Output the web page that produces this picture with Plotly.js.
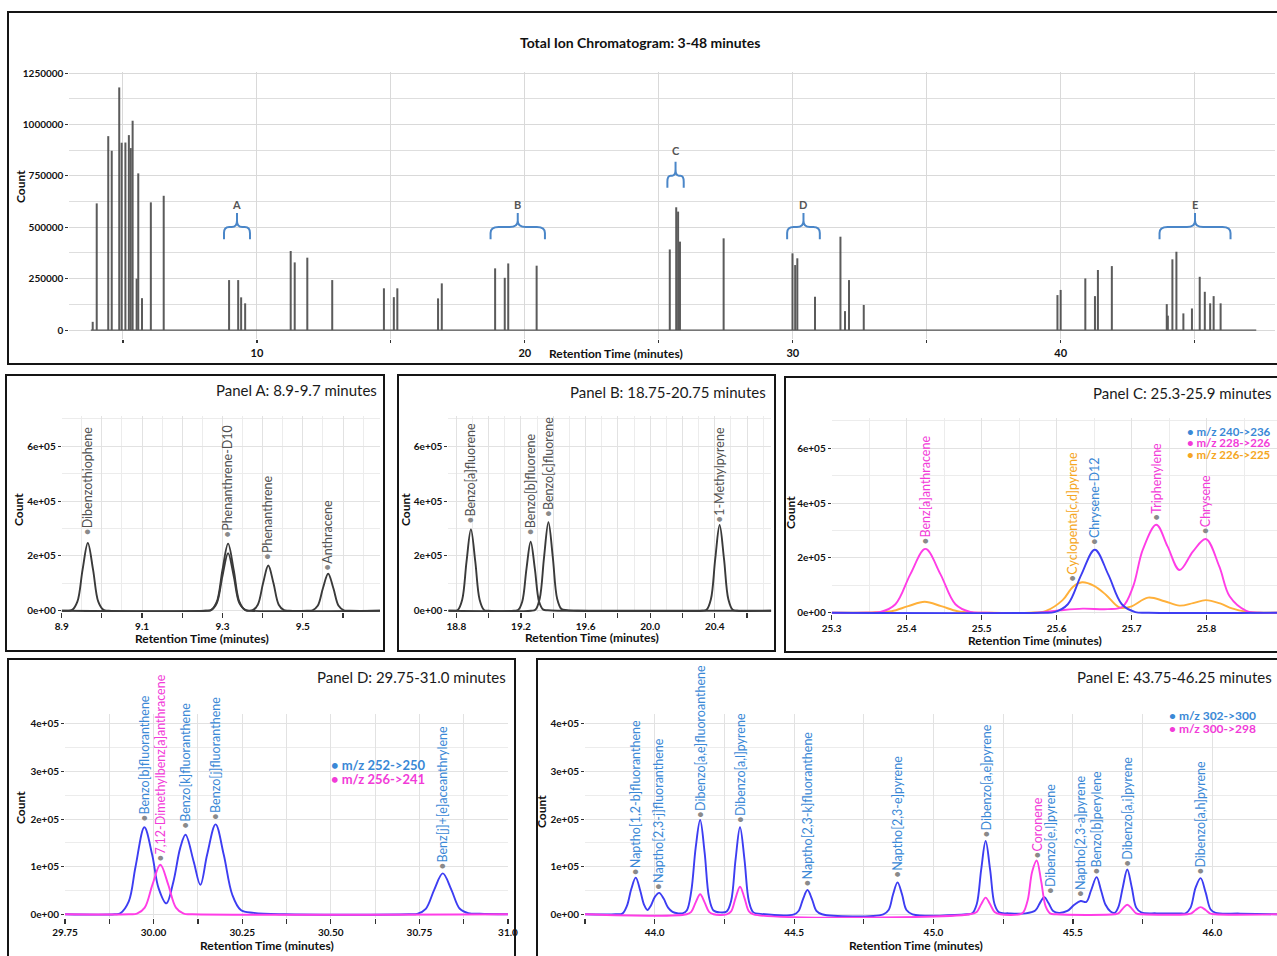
<!DOCTYPE html>
<html>
<head>
<meta charset="utf-8">
<script src="https://cdn.plot.ly/plotly-3.0.1.min.js"></script>
<style>html,body{margin:0;padding:0;background:#fff;}#chart{width:1277px;height:956px;}</style>
</head>
<body>
<div id="chart"></div>
<script>
// ================= DATA =================
// Total ion chromatogram: peak apex retention time (min) and count
const ticRt = [3.87, 4.02, 4.45, 4.58, 4.86, 4.95, 5.09, 5.22, 5.29, 5.36, 5.51, 5.57, 5.71, 6.04, 6.52,
  8.96, 9.30, 9.41, 9.56, 11.26, 11.41, 11.88, 12.81, 14.74, 15.11, 15.24, 16.76, 16.90,
  18.89, 19.25, 19.38, 20.44, 25.41, 25.65, 25.72, 25.79, 27.42, 29.99, 30.09, 30.17, 30.83,
  31.78, 31.95, 32.10, 32.65, 39.88, 40.0, 40.92, 41.28, 41.39, 41.91,
  43.96, 44.0, 44.17, 44.32, 44.58, 44.90, 45.19, 45.38, 45.58, 45.71, 45.97];
const ticCount = [40000, 616000, 943000, 872000, 1180000, 911000, 912000, 948000, 885000, 1018000, 250000, 762000, 155000, 621000, 653000,
  243000, 243000, 159000, 130000, 384000, 329000, 352000, 243000, 203000, 160000, 203000, 154000, 227000,
  300000, 254000, 324000, 313000, 392000, 597000, 576000, 430000, 446000, 373000, 316000, 349000, 162000,
  454000, 92000, 243000, 122000, 170000, 195000, 251000, 165000, 292000, 311000,
  126000, 70000, 344000, 381000, 81000, 105000, 259000, 186000, 130000, 165000, 130000];
const ticBaseRt = [3.8, 47.3];
const ticBaseCount = [0, 0];
const ticXTickVals = [5, 10, 15, 20, 25, 30, 35, 40, 45];
const ticXTickText = ['', '10', '', '20', '', '30', '', '40', ''];
const ticYTickVals = [0, 250000, 500000, 750000, 1000000, 1250000];
const ticYTickText = ['0', '250000', '500000', '750000', '1000000', '1250000'];
// Panel windows marked on the TIC
const braceLetters = ['A', 'B', 'C', 'D', 'E'];
const braceFrom = [8.77, 18.72, 25.32, 29.79, 43.69];
const braceTo = [9.74, 20.75, 25.93, 31.01, 46.34];

// Panel A
const aRt1 = [8.90, 8.913, 8.926, 8.939, 8.952, 8.965, 8.978, 8.991, 9.004, 9.017, 9.258, 9.272, 9.286, 9.300, 9.314, 9.328, 9.342, 9.356, 9.370, 9.692];
const aCount1 = [0, 0, 3000, 33000, 150000, 247000, 150000, 33000, 3000, 0, 0, 3000, 33000, 149000, 245000, 149000, 33000, 3000, 0, 0];
const aRt2 = [8.90, 9.258, 9.272, 9.286, 9.300, 9.314, 9.328, 9.342, 9.358, 9.375, 9.388, 9.401, 9.414, 9.427, 9.440, 9.453, 9.466, 9.510, 9.524, 9.537, 9.550, 9.563, 9.576, 9.589, 9.602, 9.616, 9.692];
const aCount2 = [0, 0, 2500, 28000, 127000, 210000, 127000, 28000, 2500, 2000, 22000, 100000, 165000, 100000, 22000, 2000, 0, 0, 1500, 18000, 82000, 135000, 82000, 18000, 1500, 0, 0];
const aNames = ['Dibenzothiophene', 'Phenanthrene-D10', 'Phenanthrene', 'Anthracene'];
const aPeakRt = [8.965, 9.314, 9.414, 9.563];
const aLabelCount = [272000, 260000, 180000, 140000];
const aXTickVals = [8.9, 9.0, 9.1, 9.2, 9.3, 9.4, 9.5, 9.6];
const aXTickText = ['8.9', '', '9.1', '', '9.3', '', '9.5', ''];

// Panel B
const bRt1 = [18.75, 18.782, 18.809, 18.836, 18.863, 18.89, 18.917, 18.944, 18.971, 18.998, 19.262, 19.289, 19.316, 19.343, 19.37, 19.397, 19.424, 19.451, 19.485, 19.55, 20.322, 20.349, 20.376, 20.403, 20.43, 20.457, 20.484, 20.511, 20.538, 20.75];
const bCount1 = [0, 0, 3000, 40000, 180000, 297000, 180000, 40000, 3000, 0, 0, 3500, 44000, 196000, 323000, 196000, 44000, 6000, 2000, 0, 0, 3400, 42000, 190000, 313000, 190000, 42000, 3400, 0, 0];
const bRt2 = [18.75, 19.156, 19.182, 19.208, 19.234, 19.26, 19.286, 19.312, 19.338, 19.364, 19.45, 20.75];
const bCount2 = [0, 0, 2800, 34000, 153000, 252000, 153000, 34000, 4000, 1500, 0, 0];
const bNames = ['Benzo[a]fluorene', 'Benzo[b]fluorene', 'Benzo[c]fluorene', '1-Methylpyrene'];
const bPeakRt = [18.89, 19.26, 19.37, 20.43];
const bLabelCount = [315000, 270000, 337000, 315000];
const bXTickVals = [18.8, 19.0, 19.2, 19.4, 19.6, 19.8, 20.0, 20.2, 20.4, 20.6];
const bXTickText = ['18.8', '', '19.2', '', '19.6', '', '20.0', '', '20.4', ''];

// Panel C
const cOrangeRt = [25.30, 25.334, 25.358, 25.380, 25.402, 25.424, 25.446, 25.468, 25.490, 25.514, 25.564, 25.586, 25.608, 25.622, 25.634, 25.650, 25.666, 25.684, 25.699, 25.722, 25.744, 25.764, 25.782, 25.799, 25.819, 25.834, 25.853, 25.874, 25.894];
const cOrangeCount = [0, 0, 1500, 5400, 24000, 40000, 24000, 5400, 500, 0, 0, 7000, 46000, 95000, 111000, 98000, 65000, 19000, 22000, 55000, 42000, 26000, 35000, 46000, 33000, 16000, 4000, 0, 0];
const cMagentaRt = [25.30, 25.345, 25.365, 25.385, 25.405, 25.425, 25.445, 25.465, 25.485, 25.505, 25.575, 25.605, 25.635, 25.668, 25.688, 25.702, 25.715, 25.733, 25.748, 25.764, 25.782, 25.799, 25.817, 25.831, 25.853, 25.872, 25.894];
const cMagentaCount = [0, 0, 2600, 31000, 141000, 233000, 141000, 31000, 2600, 0, 0, 9000, 15000, 13000, 22000, 95000, 230000, 321000, 242000, 156000, 224000, 269000, 169000, 59000, 7000, 0, 0];
const cBlueRt = [25.30, 25.579, 25.597, 25.615, 25.633, 25.651, 25.669, 25.687, 25.705, 25.723, 25.894];
const cBlueCount = [0, 0, 2500, 31000, 139000, 230000, 139000, 31000, 2500, 0, 0];
const cNames = ['Benz[a]anthracene', 'Cyclopenta[c,d]pyrene', 'Chrysene-D12', 'Triphenylene', 'Chrysene'];
const cPeakRt = [25.425, 25.621, 25.651, 25.733, 25.799];
const cLabelCount = [244000, 110000, 242000, 332000, 283000];
const cLabelSeries = ['magenta', 'orange', 'blue', 'magenta', 'magenta'];
const cLegend = ['m/z 240->236', 'm/z 228->226', 'm/z 226->225'];
const cLegendSeries = ['blue', 'magenta', 'orange'];
const cXTickVals = [25.3, 25.4, 25.5, 25.6, 25.7, 25.8];
const cXTickText = ['25.3', '25.4', '25.5', '25.6', '25.7', '25.8'];

// Panel D
const dBlueRt = [29.75, 29.89, 29.906, 29.930, 29.949, 29.974, 29.996, 30.014, 30.036, 30.056, 30.075, 30.090, 30.113, 30.132, 30.151, 30.175, 30.198, 30.222, 30.246, 30.283, 30.368, 30.72, 30.744, 30.768, 30.792, 30.816, 30.840, 30.864, 30.888, 30.92, 31.0];
const dBlueCount = [0, 0, 2000, 27000, 100000, 183000, 125000, 55000, 23000, 69000, 139000, 167000, 111000, 62000, 125000, 189000, 125000, 41000, 9000, 3000, 0, 0, 1000, 11600, 52000, 86000, 52000, 11600, 2500, 1000, 0];
const dMagentaRt = [29.75, 29.93, 29.953, 29.975, 29.997, 30.019, 30.041, 30.063, 30.085, 30.11, 31.0];
const dMagentaCount = [0, 0, 1200, 14000, 63000, 104000, 63000, 14000, 1200, 0, 0];
const dNames = ['Benzo[b]fluoranthene', '7,12-Dimethylbenz[a]anthracene', 'Benzo[k]fluoranthene', 'Benzo[j]fluoranthene', 'Benz[j]+[e]aceanthrylene'];
const dPeakRt = [29.974, 30.019, 30.09, 30.175, 30.816];
const dLabelCount = [192000, 108000, 176000, 196000, 91000];
const dLabelSeries = ['blue', 'magenta', 'blue', 'blue', 'blue'];
const dLegend = ['m/z 252->250', 'm/z 256->241'];
const dLegendSeries = ['blue', 'magenta'];
const dXTickVals = [29.75, 29.875, 30.0, 30.125, 30.25, 30.375, 30.5, 30.625, 30.75, 30.875, 31.0];
const dXTickText = ['29.75', '', '30.00', '', '30.25', '', '30.50', '', '30.75', '', '31.0'];

// Panel E
const eBlueRt = [43.75, 43.86, 43.884, 43.900, 43.916, 43.932, 43.948, 43.962, 43.974, 43.986, 44.000, 44.016, 44.032, 44.048, 44.064, 44.085, 44.10, 44.115, 44.131, 44.147, 44.163, 44.179, 44.195, 44.211, 44.235, 44.258, 44.274, 44.290, 44.306, 44.322, 44.338, 44.354, 44.38, 44.50, 44.516, 44.532, 44.548, 44.564, 44.580, 44.60, 44.82, 44.839, 44.855, 44.871, 44.887, 44.903, 44.925, 45.12, 45.139, 45.155, 45.171, 45.187, 45.203, 45.219, 45.235, 45.27, 45.33, 45.365, 45.381, 45.397, 45.413, 45.429, 45.45, 45.48, 45.505, 45.528, 45.548, 45.565, 45.585, 45.601, 45.617, 45.635, 45.65, 45.663, 45.679, 45.695, 45.711, 45.727, 45.745, 45.80, 45.88, 45.904, 45.922, 45.940, 45.958, 45.976, 45.994, 46.012, 46.10, 46.232];
const eBlueCount = [0, 0, 1500, 17000, 53000, 77000, 50000, 20000, 9000, 18000, 36000, 45000, 33000, 14000, 5000, 2000, 2000, 8000, 48000, 140000, 198000, 130000, 35000, 8000, 4000, 6000, 28000, 115000, 183000, 115000, 27000, 4000, 1000, 0, 7000, 32000, 51000, 32000, 7000, 0, 0, 9000, 42000, 67000, 42000, 9000, 0, 0, 2000, 21000, 94000, 154000, 94000, 21000, 4000, 2000, 2000, 8000, 23000, 36000, 23000, 7000, 3000, 7000, 20000, 28000, 26000, 50000, 78000, 50000, 20000, 6000, 3000, 15000, 57000, 94000, 57000, 14000, 4000, 2000, 2000, 2000, 14000, 56000, 76000, 46000, 10000, 3000, 1500, 0];
const eMagentaRt = [43.75, 44.115, 44.131, 44.147, 44.163, 44.179, 44.195, 44.211, 44.258, 44.274, 44.290, 44.306, 44.322, 44.338, 44.354, 45.13, 45.155, 45.171, 45.187, 45.203, 45.219, 45.24, 45.31, 45.322, 45.338, 45.354, 45.370, 45.386, 45.402, 45.418, 45.44, 45.65, 45.663, 45.679, 45.695, 45.711, 45.727, 45.75, 45.91, 45.925, 45.94, 45.958, 45.976, 45.991, 46.01, 46.232];
const eMagentaCount = [0, 0, 5000, 25000, 42000, 25000, 5000, 0, 0, 6000, 34000, 58000, 34000, 6000, 0, 0, 5000, 21000, 35000, 21000, 5000, 0, 0, 4000, 30000, 90000, 113000, 70000, 17000, 2000, 0, 0, 2000, 12000, 20000, 12000, 2000, 0, 0, 2000, 9000, 15000, 9000, 2000, 0, 0];
const eNames = ['Naptho[1,2-b]fluoranthene', 'Naptho[2,3-j]fluoranthene', 'Dibenzo[a,e]fluoroanthene', 'Dibenzo[a,l]pyrene', 'Naptho[2,3-k]fluoranthene', 'Naptho[2,3-e]pyrene', 'Dibenzo[a,e]pyrene', 'Coronene', 'Dibenzo[e,l]pyrene', 'Naptho[2,3-a]pyrene', 'Benzo[b]perylene', 'Dibenzo[a,i]pyrene', 'Dibenzo[a,h]pyrene'];
const ePeakRt = [43.932, 44.016, 44.163, 44.306, 44.548, 44.871, 45.187, 45.37, 45.42, 45.528, 45.585, 45.695, 45.958];
const eLabelCount = [80000, 49000, 199000, 189000, 56000, 73000, 158000, 115000, 40000, 33000, 80000, 98000, 80000];
const eLabelSeries = ['blue', 'blue', 'blue', 'blue', 'blue', 'blue', 'blue', 'magenta', 'blue', 'blue', 'blue', 'blue', 'blue'];
const eLegend = ['m/z 302->300', 'm/z 300->298'];
const eLegendSeries = ['blue', 'magenta'];
const eXTickVals = [43.75, 44.0, 44.25, 44.5, 44.75, 45.0, 45.25, 45.5, 45.75, 46.0];
const eXTickText = ['', '44.0', '', '44.5', '', '45.0', '', '45.5', '', '46.0'];

const panelYTickVals6 = [0, 200000, 400000, 600000];
const panelYTickText6 = ['0e+00', '2e+05', '4e+05', '6e+05'];
const panelYTickVals4 = [0, 100000, 200000, 300000, 400000];
const panelYTickText4 = ['0e+00', '1e+05', '2e+05', '3e+05', '4e+05'];

// ================= STYLE / LAYOUT =================
const W = 1277, H = 956;
const FONT = "Lato, 'Open Sans', sans-serif";
const LINE = {blue: '#3d3df2', magenta: '#ff3de6', orange: '#ffb03a', grey: '#3a3a3a'};
const TEXT = {blue: '#3a88d6', magenta: '#f23bd8', orange: '#f5a623', grey: '#505050'};
const fx = p => p / W;
const fy = p => 1 - p / H;
const domX = (a, b) => [fx(a), fx(b)];
const domY = (top, bottom) => [fy(bottom), fy(top)];

function xAxis(domain, range, vals, texts, minorStep, anchor) {
  const ax = {
    domain, range, anchor, tickmode: 'array', tickvals: vals, ticktext: texts,
    ticks: 'outside', ticklen: 5, tickwidth: 1.2, tickcolor: '#333',
    tickfont: {family: FONT, size: 10, color: '#111', weight: 'bold'},
    showgrid: true, gridcolor: '#e2e2e2', gridwidth: 1, zeroline: false, showline: false, fixedrange: true
  };
  if (minorStep) ax.minor = {tickmode: 'linear', tick0: vals[0], dtick: minorStep, showgrid: true, gridcolor: '#ececec', ticks: ''};
  return ax;
}
function yAxis(domain, range, vals, texts, minorStep, anchor) {
  return {
    domain, range, anchor, tickmode: 'array', tickvals: vals, ticktext: texts,
    ticks: 'outside', ticklen: 3, tickwidth: 1, tickcolor: '#333',
    tickfont: {family: FONT, size: 10, color: '#111', weight: 'bold'},
    showgrid: true, gridcolor: '#e2e2e2', gridwidth: 1, zeroline: false, showline: false, fixedrange: true,
    minor: {tickmode: 'linear', tick0: 0, dtick: minorStep, showgrid: true, gridcolor: '#ececec', ticks: ''}
  };
}

const layout = {
  width: W, height: H, margin: {l: 0, r: 0, t: 0, b: 0},
  paper_bgcolor: '#ffffff', plot_bgcolor: 'rgba(0,0,0,0)', showlegend: false, hovermode: false,
  xaxis: Object.assign(xAxis(domX(69.4, 1275), [3, 48], ticXTickVals, ticXTickText, null, 'y'),
    {ticklen: 3, gridcolor: '#d9d9d9', tickfont: {family: FONT, size: 11, color: '#111', weight: 'bold'}}),
  yaxis: Object.assign(yAxis(domY(72, 339.3), [-45000, 1255000], ticYTickVals, ticYTickText, 125000, 'x'),
    {gridcolor: '#d9d9d9', minor: {tickmode: 'linear', tick0: 0, dtick: 125000, showgrid: true, gridcolor: '#dedede', ticks: ''}}),
  xaxis2: xAxis(domX(61.7, 380), [8.9, 9.692], aXTickVals, aXTickText, 0.05, 'y2'),
  yaxis2: yAxis(domY(416.2, 612.1), [-5000, 710000], panelYTickVals6, panelYTickText6, 100000, 'x2'),
  xaxis3: xAxis(domX(448.3, 771.3), [18.75, 20.75], bXTickVals, bXTickText, 0.1, 'y3'),
  yaxis3: yAxis(domY(416.2, 612.1), [-5000, 710000], panelYTickVals6, panelYTickText6, 100000, 'x3'),
  xaxis4: xAxis(domX(831.7, 1277), [25.3, 25.894], cXTickVals, cXTickText, 0.05, 'y4'),
  yaxis4: yAxis(domY(418.2, 614.1), [-5000, 710000], panelYTickVals6, panelYTickText6, 100000, 'x4'),
  xaxis5: xAxis(domX(65, 508), [29.75, 31.0], dXTickVals, dXTickText, null, 'y5'),
  yaxis5: yAxis(domY(714.4, 918.1), [-8000, 420000], panelYTickVals4, panelYTickText4, 50000, 'x5'),
  xaxis6: xAxis(domX(585, 1277), [43.75, 46.232], eXTickVals, eXTickText, null, 'y6'),
  yaxis6: yAxis(domY(714.4, 918.1), [-8000, 420000], panelYTickVals4, panelYTickText4, 50000, 'x6'),
  shapes: [], annotations: []
};

// ================= TRACES =================
const traces = [];
function line(x, y, color, axN) {
  traces.push({type: 'scatter', mode: 'lines', x, y, xaxis: 'x' + axN, yaxis: 'y' + axN,
    line: {color, width: 1.9, shape: 'spline', smoothing: 1}, hoverinfo: 'skip'});
}
traces.push({type: 'scatter', mode: 'lines', x: ticBaseRt, y: ticBaseCount, xaxis: 'x', yaxis: 'y',
  line: {color: '#555', width: 1.2}, hoverinfo: 'skip'});
traces.push({type: 'bar', x: ticRt, y: ticCount, width: 0.075, xaxis: 'x', yaxis: 'y',
  marker: {color: '#4a4a4a', line: {width: 0}}, opacity: 0.9, hoverinfo: 'skip'});
line(aRt1, aCount1, LINE.grey, 2);
line(aRt2, aCount2, LINE.grey, 2);
line(bRt1, bCount1, LINE.grey, 3);
line(bRt2, bCount2, LINE.grey, 3);
line(cOrangeRt, cOrangeCount, LINE.orange, 4);
line(cMagentaRt, cMagentaCount, LINE.magenta, 4);
line(cBlueRt, cBlueCount, LINE.blue, 4);
line(dBlueRt, dBlueCount, LINE.blue, 5);
line(dMagentaRt, dMagentaCount, LINE.magenta, 5);
line(eBlueRt, eBlueCount, LINE.blue, 6);
line(eMagentaRt, eMagentaCount, LINE.magenta, 6);

// ================= ANNOTATIONS =================
const ann = layout.annotations;
function text(t, x, y, opts) {
  ann.push(Object.assign({xref: 'paper', yref: 'paper', x: fx(x), y: fy(y), text: t, showarrow: false,
    xanchor: 'center', yanchor: 'middle', font: {family: FONT, size: 12, color: '#111'}}, opts || {}));
}
function peakLabels(names, rts, counts, series, axN) {
  names.forEach((n, i) => {
    const s = series ? series[i] : 'grey';
    ann.push({xref: 'x' + axN, yref: 'y' + axN, x: rts[i], y: counts[i], showarrow: false, textangle: -90,
      xanchor: 'center', yanchor: 'bottom', borderpad: 0,
      text: '<span style="color:#8a8a8a">•</span>' + n,
      font: {family: FONT, size: 12.5, color: TEXT[s]}});
  });
}
peakLabels(aNames, aPeakRt, aLabelCount, null, 2);
peakLabels(bNames, bPeakRt, bLabelCount, null, 3);
peakLabels(cNames, cPeakRt, cLabelCount, cLabelSeries, 4);
peakLabels(dNames, dPeakRt, dLabelCount, dLabelSeries, 5);
peakLabels(eNames, ePeakRt, eLabelCount, eLabelSeries, 6);

function legend(items, series, x, y0, dy, size) {
  items.forEach((t, i) => text('• ' + t, x, y0 + i * dy,
    {xanchor: 'left', borderpad: 0, font: {family: FONT, size: size, color: TEXT[series[i]], weight: 'bold'}}));
}
legend(cLegend, cLegendSeries, 1186, 431, 11.5, 11.5);
legend(dLegend, dLegendSeries, 330, 765, 14, 13);
legend(eLegend, eLegendSeries, 1168, 715, 13.5, 12);

// titles
const bold12 = {family: FONT, size: 12, color: '#111', weight: 'bold'};
text('Total Ion Chromatogram: 3-48 minutes', 640, 43, {font: {family: FONT, size: 14, color: '#111', weight: 'bold'}});
text('Retention Time (minutes)', 616, 353, {font: bold12});
text('Count', 20, 187, {textangle: -90, font: bold12});
const panelFont = {family: FONT, size: 15, color: '#1a1a1a'};
text('Panel A: 8.9-9.7 minutes', 379, 390, {xanchor: 'right', font: panelFont});
text('Panel B: 18.75-20.75 minutes', 768, 392, {xanchor: 'right', font: panelFont});
text('Panel C: 25.3-25.9 minutes', 1274, 393, {xanchor: 'right', font: panelFont});
text('Panel D: 29.75-31.0 minutes', 508, 677, {xanchor: 'right', font: panelFont});
text('Panel E: 43.75-46.25 minutes', 1274, 677, {xanchor: 'right', font: panelFont});
[[18, 510], [405, 510], [790, 513], [20, 808], [541, 812]].forEach(p => text('Count', p[0], p[1], {textangle: -90, font: bold12}));
[[202, 638], [592, 637], [1035, 640], [267, 945], [916, 945]].forEach(p => text('Retention Time (minutes)', p[0], p[1], {font: bold12}));

// ================= SHAPES =================
const shp = layout.shapes;
function box(x0, y0, x1, y1) {
  shp.push({type: 'rect', xref: 'paper', yref: 'paper', x0: fx(x0), x1: fx(x1), y0: fy(y1), y1: fy(y0),
    line: {color: '#151515', width: 2}, fillcolor: 'rgba(0,0,0,0)', layer: 'above'});
}
box(8, 12, 1290, 364);
box(6, 375, 384, 651);
box(398, 375, 775, 651);
box(785, 377, 1290, 652);
box(8, 659, 515, 975);
box(537, 659, 1290, 975);

// curly braces marking each panel window on the TIC
braceLetters.forEach((L, i) => {
  const x0 = braceFrom[i], x1 = braceTo[i], xm = (x0 + x1) / 2;
  const lift = L === 'C' ? 250000 : 0;
  const yb = 442000 + lift, yt = 501000 + lift, ytip = 569000 + lift;
  const r = Math.min(0.3, (x1 - x0) / 5);
  const yc = yt - (yt - yb) * 0.5, yh = yt + (ytip - yt) * 0.45;
  const path = `M${x0},${yb} L${x0},${yc} Q${x0},${yt} ${x0 + r},${yt} L${xm - r},${yt} Q${xm},${yt} ${xm},${yh} L${xm},${ytip} ` +
    `M${xm},${yh} Q${xm},${yt} ${xm + r},${yt} L${x1 - r},${yt} Q${x1},${yt} ${x1},${yc} L${x1},${yb}`;
  shp.push({type: 'path', xref: 'x', yref: 'y', path, line: {color: '#4a86c8', width: 2}});
  ann.push({xref: 'x', yref: 'y', x: xm, y: 613000 + (L === 'C' ? 262000 : 0), text: L, showarrow: false,
    font: {family: FONT, size: 11, color: '#555', weight: 'bold'}});
});

Plotly.newPlot('chart', traces, layout, {staticPlot: true, displayModeBar: false});
</script>
</body>
</html>
